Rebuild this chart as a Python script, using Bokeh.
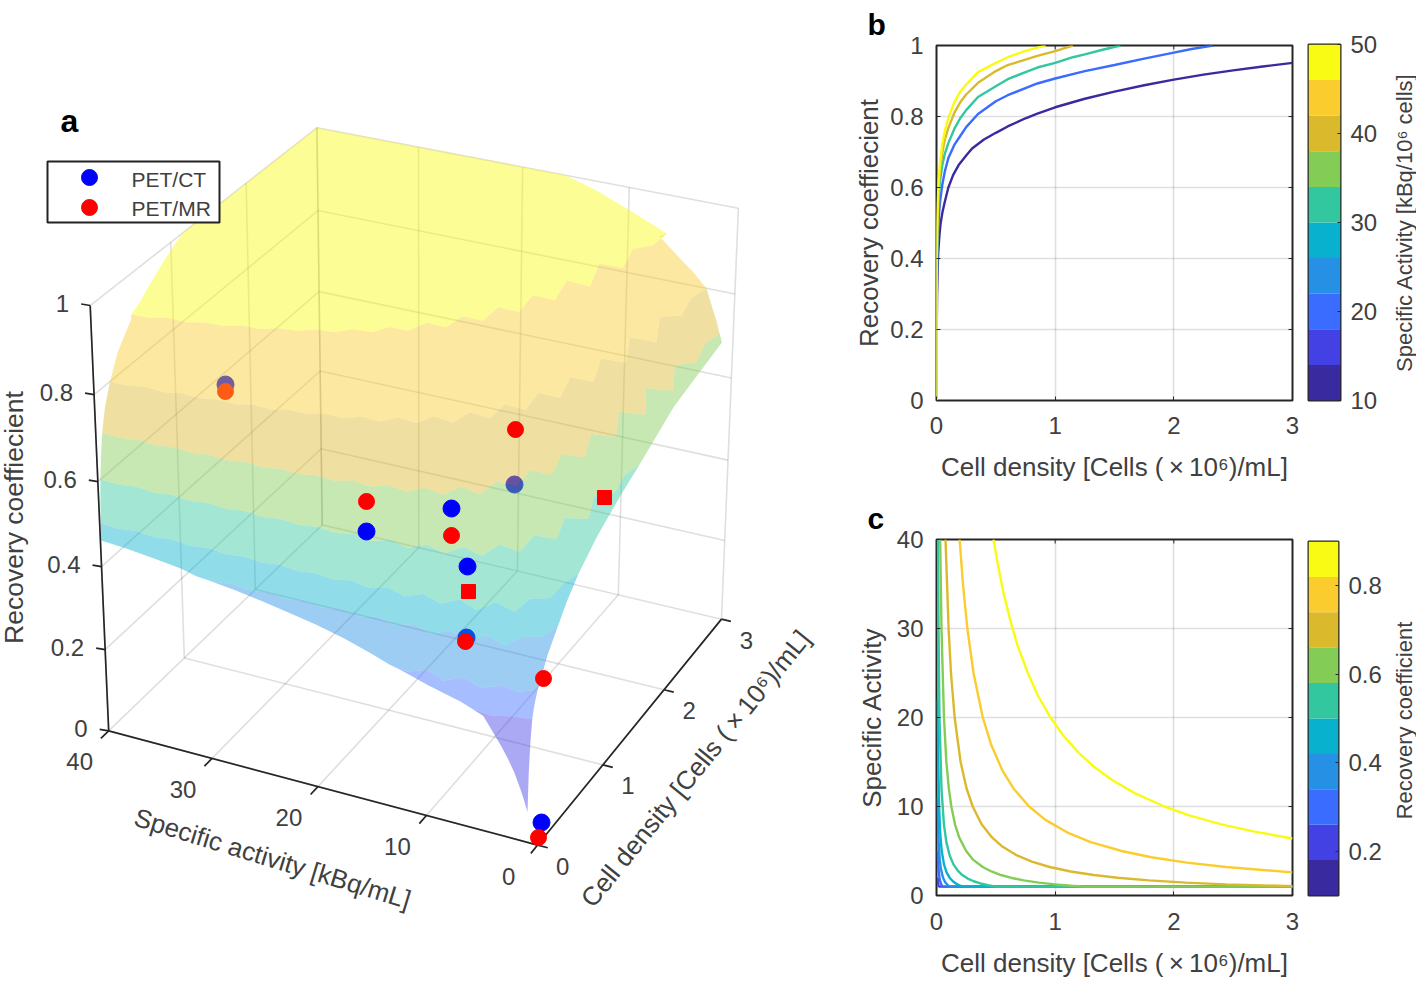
import math
import numpy as np
from bokeh.embed import file_html
from bokeh.layouts import column, row
from bokeh.models import FixedTicker, Label, Range1d
from bokeh.plotting import figure
from bokeh.resources import INLINE

FONT = "Liberation Sans"
INK = "#404040"
AXIS = "#262626"

# ---------- data ----------
parula10 = ["#3A2A9F", "#4441E4", "#3A6CFF", "#2691E4", "#08B2CF",
            "#33C7A0", "#83CC56", "#DBB92C", "#FBCC2E", "#F9FB15"]

# Panel b: recovery coefficient against cell density, per specific activity
b10_x = [0, .001, .002, .005, .01, .015, .025, .035, .05, .07, .1, .14, .19, .25, .3, .4, .5, .6, .75, .85, 1, 1.25, 1.5, 1.75, 2, 2.25, 2.5, 2.75, 3]
b10_y = [0, .14, .2, .3, .38, .42, .467, .5, .53, .56, .6, .635, .665, .69, .71, .735, .754, .772, .795, .808, .826, .85, .87, .888, .904, .918, .93, .941, .951]
b20_x = [0, .001, .002, .005, .01, .02, .03, .05, .07, .1, .15, .2, .25, .35, .5, .6, .75, .85, 1, 1.25, 1.5, 1.75, 2, 2.15, 2.33]
b20_y = [0, .2, .28, .38, .45, .52, .56, .61, .645, .683, .72, .745, .77, .807, .843, .86, .88, .893, .907, .928, .945, .963, .98, .99, 1]
b30_x = [0, .001, .002, .005, .01, .02, .03, .05, .07, .1, .15, .2, .25, .35, .5, .6, .75, .85, 1, 1.15, 1.25, 1.4, 1.55]
b30_y = [0, .24, .33, .42, .5, .58, .62, .665, .695, .725, .765, .795, .818, .855, .885, .905, .925, .938, .951, .967, .975, .988, 1]
b40_x = [0, .001, .002, .005, .01, .02, .03, .05, .07, .1, .15, .2, .25, .35, .5, .6, .75, .85, 1, 1.15]
b40_y = [0, .27, .36, .46, .53, .61, .65, .7, .735, .768, .81, .84, .862, .895, .928, .945, .96, .971, .984, 1]
b50_x = [0, .001, .002, .005, .01, .02, .03, .05, .07, .1, .15, .2, .25, .35, .5, .6, .75, .85, .92]
b50_y = [0, .29, .38, .48, .56, .63, .67, .725, .76, .796, .84, .87, .89, .925, .951, .967, .985, .994, 1]

# Panel c: iso-recovery lines, cell density and specific activity
c90_sa = [40, 37, 34, 31, 28, 25, 22.5, 20, 18, 16, 14.5, 13, 11.5, 10, 9, 8, 7.2, 6.4]
c90_x = [.48, .52, .565, .62, .685, .77, .853, .96, 1.067, 1.2, 1.324, 1.477, 1.67, 1.92, 2.13, 2.4, 2.67, 3]
c80_sa = [40, 35, 30, 25, 20, 17, 14, 12, 10, 8.5, 7, 6, 5, 4.3, 3.7, 3.2, 2.6]
c80_x = [.195, .223, .26, .312, .39, .459, .557, .65, .78, .918, 1.114, 1.3, 1.56, 1.81, 2.11, 2.44, 3]
c70_sa = [40, 30, 25, 20, 15, 12, 10, 8, 6.5, 5.5, 4.5, 3.8, 3.2, 2.7, 2.3, 2, 1.7, 1.45, 1.25, 1.05]
c70_x = [.076, .102, .122, .153, .203, .254, .305, .38, .47, .555, .678, .803, .953, 1.13, 1.326, 1.525, 1.79, 2.1, 2.44, 3]
c60_sa = [40, 30, 20, 15, 12, 10, 8, 6.5, 5, 4, 3.2, 2.7, 2.3, 2, 1.7, 1.45, 1.25, 1.1, 1]
c60_x = [.031, .042, .063, .083, .104, .125, .156, .192, .25, .31, .39, .463, .543, .625, .735, .862, 1, 1.136, 1.25]
c50_sa = [40, 30, 20, 12, 8, 6, 4.5, 3.5, 2.8, 2.3, 1.9, 1.6, 1.35, 1.15, 1]
c50_x = [.0125, .017, .025, .042, .0625, .083, .111, .143, .179, .217, .263, .313, .37, .435, .5]
c40_sa = [22, 15, 10, 7, 5, 3.5, 2.6, 2, 1.6, 1.3, 1.1, 1]
c40_x = [.01, .0147, .022, .031, .044, .063, .085, .11, .138, .169, .2, .22]
c30_sa = [11, 8, 6, 4, 3, 2, 1.5, 1.2, 1]
c30_x = [.01, .014, .018, .0275, .037, .055, .073, .092, .11]
c20_sa = [5, 4, 3, 2, 1.5, 1.2, 1]
c20_x = [.01, .0125, .017, .025, .033, .042, .05]
c10_sa = [2, 1.5, 1.2, 1]
c10_x = [.01, .013, .017, .02]

s70_sa = [40, 30, 25, 20, 15, 12, 10, 8, 6.5, 5.5, 4.5, 3.8, 3.2, 2.7, 2.3, 2, 1.7, 1.45, 1.25]
s70_x = [.076, .102, .122, .153, .205, .262, .325, .42, .54, .66, .83, 1, 1.2, 1.42, 1.67, 1.92, 2.26, 2.62, 3]
s60_sa = [40, 30, 20, 15, 12, 10, 8, 6.5, 5, 4, 3.2, 2.7, 2.3, 2, 1.7, 1.45, 1.25, 1.1, 1]
s60_x = [.031, .042, .063, .083, .11, .14, .185, .24, .32, .41, .51, .6, .72, .85, 1, 1.2, 1.4, 1.52, 1.65]
s50_sa = [40, 30, 20, 12, 8, 6, 4.5, 3.5, 2.8, 2.3, 1.9, 1.6, 1.35, 1.15, 1]
s50_x = [.0125, .017, .025, .05, .08, .11, .15, .195, .245, .3, .37, .44, .53, .62, .72]
s43_sa = [31, 25, 20, 15, 10, 6, 4, 3, 2, 1.5, 1.2, 1]
s43_x = [.01, .0145, .02, .03, .047, .08, .12, .16, .24, .31, .37, .42]
s33_sa = [13.4, 10, 8, 6, 4, 3, 2, 1.5, 1.2, 1]
s33_x = [.01, .018, .025, .034, .05, .065, .085, .1, .115, .134]
s28_sa = [6, 5, 4, 3, 2, 1.5, 1.2, 1]
s28_x = [.01, .012, .015, .02, .03, .04, .05, .06]
s100_sa = [40, 40, 16]
s100_x = [1.15, 3, 3]
s07_sa = [1]
s07_x = [.01]

# Panel a: surface height along its two outer sides, from the tip upward
side_a_sa = [1, 1.3, 1.6, 2.2, 2.8, 3.4, 4.2, 5, 7, 8.5, 10, 12.5, 15, 17.5, 20, 22.5, 25, 27.5, 30, 32.5, 35, 37.5, 40,
             40, 40, 40, 40, 40, 40, 40, 40, 40, 40, 40, 40, 40, 40, 40]
side_a_x = [.01] * 23 + [.0125, .02, .031, .05, .076, .12, .195, .3, .48, .58, .7, .8, .9, 1.02, 1.15]
side_a_z = [.07, .095, .117, .155, .185, .21, .24, .27, .29, .3, .31, .33, .35, .37, .386, .398, .41, .42, .428, .44, .448, .455, .46,
            .5, .55, .6, .65, .7, .75, .8, .85, .9, .92, .94, .955, .97, .985, 1]
side_b_x = [.01, .015, .02, .03, .04, .06, .08, .1, .134, .2, .27, .42, .55, .72, 1, 1.35, 1.65, 2.2, 2.6, 3, 3, 3, 3, 3, 3, 3, 3, 3]
side_b_sa = [1] * 20 + [1.6, 2, 2.9, 3.8, 4.9, 7.1, 10, 13]
side_b_z = [.07, .115, .16, .2, .235, .28, .3, .315, .335, .36, .39, .43, .465, .5, .54, .575, .6, .65, .665, .68,
            .73, .757, .8, .83, .853, .9, .948, .978]

# Panel a: markers, as positions
ct_front_x = [451, 366, 467, 541]
ct_front_y = [508, 531, 566, 822]
ct_under_x = [225, 514, 466]
ct_under_y = [384, 484, 637]
mr_front_x = [515, 366, 451, 465, 543, 538]
mr_front_y = [429, 501, 535, 641, 678, 837]
mr_square_x = [604, 468]
mr_square_y = [497, 591]
mr_under_x = [225]
mr_under_y = [391]

legend_names = ["PET/CT", "PET/MR"]
legend_colors = ["#0000FF", "#FF0000"]
legend_marker_x = [89, 89]
legend_marker_y = [177, 207]
legend_text_x = [131, 131]
legend_text_y = [179, 208]

x_ticks_a = [0, 1, 2, 3]
sa_ticks_a = [0, 10, 20, 30, 40]
z_ticks = [0, .2, .4, .6, .8, 1]
z_labels = ["0", "0.2", "0.4", "0.6", "0.8", "1"]
x_ticks = [0, 1, 2, 3]
c_y_ticks = [0, 10, 20, 30, 40]
bar_b_ticks = [10, 20, 30, 40, 50]
bar_c_ticks = [.2, .4, .6, .8]
bar_c_labels = ["0.2", "0.4", "0.6", "0.8"]

XLAB = "Cell density [Cells (\u2009×\u200910⁶)/mL]"

# ---------- camera of panel a, solved from the box corners ----------
corners3 = [(0, 0, 0), (0, 40, 0), (3, 0, 0), (3, 40, 0), (0, 40, 1), (3, 0, 1), (3, 40, 1)]
corners2 = [(537, 845), (108, 730), (721, 618), (322, 525), (90, 305), (738, 208), (316, 127)]
rows_ = []
for (cx, cs, cz), (u, v) in zip(corners3, corners2):
    X = [cx / 3, cs / 40, cz, 1]
    rows_.append(X + [0, 0, 0, 0] + [-u * t for t in X])
    rows_.append([0, 0, 0, 0] + X + [-v * t for t in X])
CAM = np.linalg.svd(np.array(rows_, float))[2][-1].reshape(3, 4)


def project(x, sa, z):
    h = CAM @ np.array([x / 3, sa / 40, z, 1.0])
    return float(h[0] / h[2]), float(h[1] / h[2])


def jagged(pts, step=18.0):
    """The surface is flat-shaded on a coarse mesh: band edges are saw-toothed."""
    pts = np.array(pts, float)
    if len(pts) < 3:
        return [tuple(q) for q in pts]
    seg = np.hypot(*np.diff(pts, axis=0).T)
    cum = np.concatenate([[0], np.cumsum(seg)])
    n = max(2, int(cum[-1] / step))
    out = [tuple(pts[0])]
    for i in range(1, n):
        s = cum[-1] * i / n
        k = min(np.searchsorted(cum, s, side="right") - 1, len(seg) - 1)
        t = (s - cum[k]) / max(seg[k], 1e-6)
        q = pts[k] + t * (pts[k + 1] - pts[k])
        d = (pts[k + 1] - pts[k]) / max(seg[k], 1e-6)
        amp = 1.0 + 9 * max(0.0, min(1.0, (q[0] - 300) / 350)) ** 1.4
        amp *= min(1.0, (n - i) / 4)
        sign = 1 if i % 2 else -1
        out.append((q[0] - d[1] * sign * amp, q[1] + d[0] * sign * amp))
    out.append(tuple(pts[-1]))
    return out


# ---------- panel a ----------
pa = figure(width=850, height=981, x_range=Range1d(0, 850), y_range=Range1d(981, 0),
            x_axis_type=None, y_axis_type=None, min_border=0, outline_line_color=None,
            output_backend="svg", toolbar_location=None, frame_align=False)
pa.grid.visible = False

grid_xs, grid_ys = [], []


def add_line(store_x, store_y, pts):
    pp = [project(*q) for q in pts]
    store_x.append([q[0] for q in pp])
    store_y.append([q[1] for q in pp])


for s in sa_ticks_a:
    add_line(grid_xs, grid_ys, [(0, s, 0), (3, s, 0), (3, s, 1)])
for v in x_ticks_a:
    add_line(grid_xs, grid_ys, [(v, 0, 0), (v, 40, 0), (v, 40, 1)])
for z in z_ticks[1:]:
    add_line(grid_xs, grid_ys, [(0, 40, z), (3, 40, z), (3, 0, z)])
pa.multi_line(grid_xs, grid_ys, line_color=AXIS, line_alpha=.15, line_width=1.6)

pa.scatter(ct_under_x, ct_under_y, size=17, color="#0000FF", marker="circle")
pa.scatter(mr_under_x, mr_under_y, size=16, color="#FF0000", marker="circle")

surface_levels = [
    (.07, s07_x, s07_sa), (.28, s28_x, s28_sa), (.335, s33_x, s33_sa), (.43, s43_x, s43_sa),
    (.5, s50_x, s50_sa), (.6, s60_x, s60_sa), (.7, s70_x, s70_sa), (.8, c80_x, c80_sa),
    (.91, c90_x, c90_sa), (1.0, s100_x, s100_sa),
]
band_colors = parula10[1:]
edge_screen = []
for k, (z, xs_, sas_) in enumerate(surface_levels):
    line = [project(a, b, z) for a, b in zip(xs_, sas_)]
    edge_screen.append(line if k == len(surface_levels) - 1 else jagged(line))

bx, by = [], []
for i in range(len(surface_levels) - 1):
    lo, hi = surface_levels[i][0], surface_levels[i + 1][0]
    poly = [project(a, b, c) for a, b, c in zip(side_a_x, side_a_sa, side_a_z) if lo < c < hi]
    poly += edge_screen[i + 1]
    poly += [project(a, b, c) for a, b, c in reversed(list(zip(side_b_x, side_b_sa, side_b_z))) if lo < c < hi]
    poly += list(reversed(edge_screen[i]))
    bx.append([q[0] for q in poly])
    by.append([q[1] for q in poly])
pa.patches(bx, by, fill_color=band_colors, fill_alpha=.45, line_color=None)

# axis lines and ticks
ax_x, ax_y = [], []
add_line(ax_x, ax_y, [(0, 40, 1), (0, 40, 0), (0, 0, 0), (3, 0, 0)])
for s in sa_ticks_a:
    add_line(ax_x, ax_y, [(0, s, 0), (-.1, s, 0)])
for v in x_ticks_a:
    add_line(ax_x, ax_y, [(v, 0, 0), (v, -.9, 0)])
for z in z_ticks:
    p0 = project(0, 40, z)
    ax_x.append([p0[0], p0[0] - 9])
    ax_y.append([p0[1], p0[1] - 1.5])
pa.multi_line(ax_x, ax_y, line_color=AXIS, line_width=1.7)


def add_text(p, x, y, t, size=24, angle=0, align="center", color=INK, style="normal"):
    p.add_layout(Label(x=x, y=y, text=t, angle=angle, text_align=align, text_baseline="middle",
                       text_font=FONT, text_font_size=f"{size}px", text_color=color, text_font_style=style))


for s in sa_ticks_a:
    u, v = project(0, s, 0)
    add_text(pa, u - 29, v + 31, str(s))
for t in x_ticks_a:
    u, v = project(t, 0, 0)
    add_text(pa, u + 25, v + 21, str(t))
for z, t in zip(z_ticks, z_labels):
    u, v = project(0, 40, z)
    add_text(pa, u - 21, v - 2.5, t, align="right")

add_text(pa, 13, 517, "Recovery coeffiecient", size=26.5, angle=math.radians(90))
add_text(pa, 272, 858, "Specific activity [kBq/mL]", size=26, angle=math.radians(-17))
add_text(pa, 695, 768, XLAB, size=26, angle=math.radians(51))
add_text(pa, 69, 120, "a", size=32, color="#000000", style="bold")

pa.scatter(ct_front_x, ct_front_y, size=17, color="#0000FF", marker="circle")
pa.scatter(mr_front_x, mr_front_y, size=16, color="#FF0000", marker="circle")
pa.scatter(mr_square_x, mr_square_y, size=14, color="#FF0000", marker="square")

# legend box
pa.quad(left=[47], right=[219], top=[161], bottom=[222], fill_color="#FFFFFF",
        line_color="#222222", line_width=2)
pa.scatter(legend_marker_x, legend_marker_y, size=16, color=legend_colors, marker="circle")
for tx, ty, name in zip(legend_text_x, legend_text_y, legend_names):
    add_text(pa, tx, ty, name, size=21, align="left")


# ---------- panels b and c ----------
def panel(height, top, bottom, xr, yr, yticks, xlabel, ylabel, xtick_stand, xstand, ystand, letter, ylabels=None):
    p = figure(width=450, height=height, x_range=Range1d(*xr), y_range=Range1d(*yr),
               min_border_left=86, min_border_right=8, min_border_top=top, min_border_bottom=bottom,
               output_backend="svg", toolbar_location=None, outline_line_color=AXIS, outline_line_width=2,
               x_axis_label=xlabel, y_axis_label=ylabel, frame_align=False, title=letter)
    p.title.text_font = FONT
    p.title.text_font_size = "30px"
    p.title.text_font_style = "bold"
    p.title.text_color = "#000000"
    p.title.align = "left"
    p.title.offset = -69
    p.title.standoff = 10
    p.xaxis.ticker = FixedTicker(ticks=x_ticks)
    p.yaxis.ticker = FixedTicker(ticks=yticks)
    p.xaxis.major_label_overrides = {t: str(t) for t in x_ticks}
    if ylabels:
        p.yaxis.major_label_overrides = dict(zip(yticks, ylabels))
    for ax in (p.xaxis[0], p.yaxis[0]):
        ax.major_tick_in, ax.major_tick_out = 4, 0
        ax.minor_tick_line_color = None
        ax.axis_line_color = None
        ax.major_tick_line_color = AXIS
        ax.major_label_text_font = FONT
        ax.major_label_text_font_size = "24px"
        ax.major_label_text_color = INK
        ax.axis_label_text_font = FONT
        ax.axis_label_text_font_size = "26px"
        ax.axis_label_text_font_style = "normal"
        ax.axis_label_text_color = INK
    p.xaxis.major_label_standoff = xtick_stand
    p.yaxis.major_label_standoff = 13
    p.xaxis.axis_label_standoff = xstand
    p.yaxis.axis_label_standoff = ystand
    p.grid.grid_line_color = AXIS
    p.grid.grid_line_alpha = .15
    p.grid.grid_line_width = 1.6
    p.grid[0].ticker = FixedTicker(ticks=x_ticks)
    p.grid[1].ticker = FixedTicker(ticks=yticks)
    dx, dy = 4 * (xr[1] - xr[0]) / 356, 4 * (yr[1] - yr[0]) / 356
    p.segment([xr[1] - dx] * len(yticks), yticks, [xr[1]] * len(yticks), yticks, line_color=AXIS, line_width=1)
    p.segment(x_ticks, [yr[1] - dy] * len(x_ticks), x_ticks, [yr[1]] * len(x_ticks), line_color=AXIS, line_width=1)
    return p


def strip(left, right, top, bottom):
    """A bare figure whose frame is the whole of a piece of the page, for free-standing text."""
    p = figure(width=right - left, height=bottom - top, x_range=Range1d(left, right), y_range=Range1d(bottom, top),
               x_axis_type=None, y_axis_type=None, min_border=0, outline_line_color=None,
               output_backend="svg", toolbar_location=None, frame_align=False)
    p.grid.visible = False
    return p


pb = panel(490, 45, 90, (0, 3), (0, 1), z_ticks, XLAB, "Recovery coeffiecient", 16, 15, 3, "b", z_labels)
for xs, ys, col in ((b10_x, b10_y, parula10[0]), (b20_x, b20_y, parula10[2]), (b30_x, b30_y, parula10[5]),
                    (b40_x, b40_y, parula10[7]), (b50_x, b50_y, parula10[9])):
    pb.line(xs, ys, line_color=col, line_width=2.4)

pc = panel(491, 49, 86, (0, 3), (0, 40), c_y_ticks, XLAB, "Specific Activity", 17, 15, 7, "c")
for xs, ys, col in ((c10_x, c10_sa, parula10[1]), (c20_x, c20_sa, parula10[2]), (c30_x, c30_sa, parula10[3]),
                    (c40_x, c40_sa, parula10[4]), (c50_x, c50_sa, parula10[5]), (c60_x, c60_sa, parula10[6]),
                    (c70_x, c70_sa, parula10[7]), (c80_x, c80_sa, parula10[8]), (c90_x, c90_sa, parula10[9])):
    tail_x = [3] if xs[-1] < 3 else []
    tail_y = [1] if xs[-1] < 3 else []
    pc.line(xs + tail_x, ys + tail_y, line_color=col, line_width=2.4)


def colorbar(height, top, bottom, yr, ticks, labels):
    p = figure(width=84, height=height, x_range=Range1d(0, 1), y_range=Range1d(*yr),
               x_axis_type=None, y_axis_location="right",
               min_border_left=8, min_border_right=44, min_border_top=top, min_border_bottom=bottom,
               output_backend="svg", toolbar_location=None, outline_line_color=AXIS, outline_line_width=2,
               frame_align=False)
    p.grid.visible = False
    edges = np.linspace(yr[0], yr[1], len(parula10) + 1)
    p.quad(left=0, right=1, bottom=edges[:-1], top=edges[1:], fill_color=parula10, line_color=None)
    ax = p.yaxis[0]
    ax.ticker = FixedTicker(ticks=ticks)
    ax.major_label_overrides = dict(zip(ticks, labels))
    ax.major_tick_in, ax.major_tick_out = 3, 0
    ax.minor_tick_line_color = None
    ax.axis_line_color = None
    ax.major_tick_line_color = AXIS
    ax.major_label_text_font = FONT
    ax.major_label_text_font_size = "24px"
    ax.major_label_text_color = INK
    ax.major_label_standoff = 10
    return p


bar_b = colorbar(490, 44, 90, (10, 50), bar_b_ticks, [str(t) for t in bar_b_ticks])
bar_c = colorbar(491, 51, 86, (.1, .9), bar_c_ticks, bar_c_labels)
title_b = strip(1384, 1416, 0, 490)
add_text(title_b, 1404, 222, "Specific Activity [kBq/10⁶ cells]", size=22, angle=math.radians(90))
title_c = strip(1384, 1416, 490, 981)
add_text(title_c, 1404, 720, "Recovery coefficient", size=22, angle=math.radians(90))

layout = row(pa, column(
    row(pb, bar_b, title_b, spacing=0),
    row(pc, bar_c, title_c, spacing=0),
    spacing=0), spacing=0)
open("out.html", "w").write(file_html(layout, INLINE))
